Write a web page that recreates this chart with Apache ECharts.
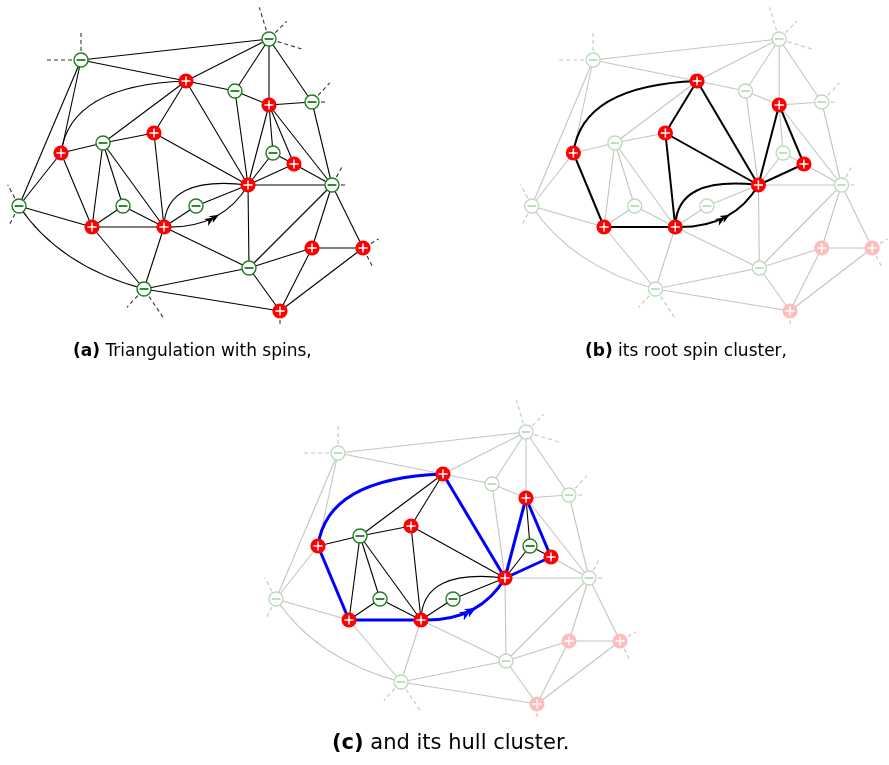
<!DOCTYPE html>
<html><head><meta charset="utf-8">
<script src="https://cdn.jsdelivr.net/npm/echarts@6/dist/echarts.min.js"></script>
<style>html,body{margin:0;padding:0;background:#fff}#c{width:889px;height:765px}</style>
</head><body><div id="c"></div>
<script>
// ---- data (node coordinates in panel units, spins, edges) ----
const nodeX = [81,186,269,235,269,312,61,103,154,273,294,19,123,92,164,196,248,332,312,363,249,144,280];
const nodeY = [60,81,39,91,105,102,153,143,133,153,164,206,206,227,227,206,185,185,248,248,268,289,311];
const nodeSpin = [-1,1,-1,-1,1,-1,1,-1,1,-1,1,-1,-1,1,1,-1,1,-1,1,1,-1,-1,1];
const edges = [[1,3],[1,2],[1,7],[1,12],[7,2,'A'],[2,3],[2,4],[2,8],[2,9],[2,17],[3,4],[3,5],[3,6],
  [4,5],[4,17],[5,6],[5,10],[5,11],[5,17],[5,18],[6,18],[7,8],[7,12],[7,14],[8,9],[8,13],[8,14],[8,15],
  [9,15],[9,17],[10,11],[10,17],[11,17],[11,18],[12,14],[12,22,'B'],[13,14],[13,15],[14,15],[14,22],
  [15,22],[15,16],[15,17,'C'],[15,17,'D'],[15,21],[16,17],[17,18],[17,21],[18,21],[18,19],[18,20],
  [19,20],[19,21],[19,23],[20,23],[21,22],[21,23],[22,23]];
const bendPerp = {A:-0.377, B:0.186, C:-0.49, D:0.295};
const bendAlong = {A:-0.211, B:-0.057, C:-0.243, D:0.043};
const stubs = [[1,180,36],[1,270,27],[3,253,33],[3,315,25],[3,17,34],[6,313,26],[6,0,15],[12,242,24],
  [12,117,22],[18,299,23],[18,0,15],[20,330,18],[20,63,23],[22,133,25],[22,56,36],[23,90,16]];
const arrowEdge = '15-17D';
const arrowT = 0.56;
const rootEdges = ['7-2A','7-14','14-15','2-9','9-15','9-17','2-17','15-17C','15-17D','5-17','5-11','11-17'];
const rootNodes = [2,7,9,14,15,17,5,11];
const hullEdges = ['7-2A','2-17','7-14','14-15','15-17D','5-17','5-11','11-17'];
const hullInnerEdges = ['2-8','2-9','7-8','8-9','8-13','8-14','8-15','9-15','9-17','13-14','13-15','15-16','16-17','15-17C','5-10','10-11','10-17'];
const hullNodes = [2,7,9,14,15,17,5,11,8,13,16,10];
const captions = [['(a)','Triangulation with spins,'],['(b)','its root spin cluster,'],['(c)','and its hull cluster.']];

// ---- styles ----
const RED='#ff0000', RED_F='#ffbcbc', GREEN='#1e7d1e', GREEN_F='#bcdcbc', GREY='#c4c4c4', BLUE='#0000ff';

function edgeKey(e){ return e[0]+'-'+e[1]+(e[2]||''); }

function ctrl(p1,p2,key){
  const mx=(p1[0]+p2[0])/2, my=(p1[1]+p2[1])/2, dx=p2[0]-p1[0], dy=p2[1]-p1[1];
  const c=bendPerp[key], s=bendAlong[key];
  return [mx + s*dx - c*dy, my + s*dy + c*dx];
}

function makeRender(mode){
  return function(params, api){
    const P = nodeX.map((x,i)=>api.coord([x,nodeY[i]]));
    const layers = [[],[],[],[],[]]; // grey, stubs, black, blue, nodes
    function edgeStyle(k){
      if(mode==='a') return {layer:2, stroke:'#000', w:1.1};
      if(mode==='b') return rootEdges.includes(k) ? {layer:2, stroke:'#000', w:2} : {layer:0, stroke:GREY, w:1.1};
      if(hullEdges.includes(k)) return {layer:3, stroke:BLUE, w:3};
      if(hullInnerEdges.includes(k)) return {layer:2, stroke:'#000', w:1.1};
      return {layer:0, stroke:GREY, w:1.1};
    }
    edges.forEach(e=>{
      const k=edgeKey(e), st=edgeStyle(k);
      const a=P[e[0]-1], b=P[e[1]-1];
      let el;
      if(e[2]){
        const cp=ctrl(a,b,e[2]);
        el={type:'bezierCurve', shape:{x1:a[0],y1:a[1],x2:b[0],y2:b[1],cpx1:cp[0],cpy1:cp[1]},
            style:{stroke:st.stroke, lineWidth:st.w, fill:'none'}};
        if(k===arrowEdge){
          const t=arrowT, u=1-t;
          const px=u*u*a[0]+2*t*u*cp[0]+t*t*b[0], py=u*u*a[1]+2*t*u*cp[1]+t*t*b[1];
          let tx=2*u*(cp[0]-a[0])+2*t*(b[0]-cp[0]), ty=2*u*(cp[1]-a[1])+2*t*(b[1]-cp[1]);
          const L=Math.hypot(tx,ty); tx/=L; ty/=L;
          const nx=-ty, ny=tx;
          const len = mode==='c'?11:9.5, hw = mode==='c'?4.8:4, gap = mode==='c'?6:5.5;
          [0,gap].forEach(off=>{
            const qx=px-tx*off, qy=py-ty*off;
            const bx=qx-tx*len, by=qy-ty*len;
            const mx=qx-tx*len*0.72, my=qy-ty*len*0.72;
            layers[st.layer===0?2:st.layer].push({type:'polygon', shape:{points:[[qx,qy],[bx+nx*hw,by+ny*hw],[mx,my],[bx-nx*hw,by-ny*hw]]},
              style:{fill:st.stroke}});
          });
        }
      } else {
        el={type:'line', shape:{x1:a[0],y1:a[1],x2:b[0],y2:b[1]}, style:{stroke:st.stroke, lineWidth:st.w}};
      }
      layers[st.layer].unshift(el);
    });
    stubs.forEach(s=>{
      const c=P[s[0]-1], ang=s[1]*Math.PI/180, r0=9, r1=s[2];
      layers[1].push({type:'line', shape:{x1:c[0]+Math.cos(ang)*r0, y1:c[1]+Math.sin(ang)*r0, x2:c[0]+Math.cos(ang)*r1, y2:c[1]+Math.sin(ang)*r1},
        style:{stroke: mode==='a'?'#333':GREY, lineWidth:1.1, lineDash:[4,3]}});
    });
    P.forEach((c,i)=>{
      const id=i+1, plus=nodeSpin[i]>0;
      let full = mode==='a' || (mode==='b' ? rootNodes.includes(id) : hullNodes.includes(id));
      if(plus){
        layers[4].push({type:'circle', shape:{cx:c[0],cy:c[1],r:7.6}, style:{fill: full?RED:RED_F}});
        layers[4].push({type:'line', shape:{x1:c[0]-4.6,y1:c[1],x2:c[0]+4.6,y2:c[1]}, style:{stroke:'#fff', lineWidth:1.5}});
        layers[4].push({type:'line', shape:{x1:c[0],y1:c[1]-4.6,x2:c[0],y2:c[1]+4.6}, style:{stroke:'#fff', lineWidth:1.5}});
      } else {
        const g = full?GREEN:GREEN_F;
        layers[4].push({type:'circle', shape:{cx:c[0],cy:c[1],r:7}, style:{fill:'#fff', stroke:g, lineWidth:1.4}});
        layers[4].push({type:'line', shape:{x1:c[0]-4.4,y1:c[1],x2:c[0]+4.4,y2:c[1]}, style:{stroke:g, lineWidth:1.8}});
      }
    });
    return {type:'group', children:[].concat(layers[0],layers[1],layers[2],layers[3],layers[4])};
  };
}

const panels = [{mode:'a', left:0, top:0},{mode:'b', left:513, top:0},{mode:'c', left:257, top:393}];
const FONT = 'DejaVu Sans';
const option = {
  backgroundColor:'#fff',
  animation:false,
  grid: panels.map(p=>({left:p.left, top:p.top, width:380, height:340})),
  xAxis: panels.map((p,i)=>({gridIndex:i, type:'value', min:0, max:380, show:false})),
  yAxis: panels.map((p,i)=>({gridIndex:i, type:'value', min:0, max:340, inverse:true, show:false})),
  title: [
    {left:73, top:343, fs:17},
    {left:585, top:343, fs:17},
    {left:332, top:733, fs:21}
  ].map((t,i)=>({left:t.left, top:t.top, padding:0,
     text:'{b|'+captions[i][0]+'} {n|'+captions[i][1]+'}',
     textStyle:{fontWeight:'normal', fontFamily:FONT, fontSize:t.fs,
       rich:{b:{fontWeight:'bold', fontSize:t.fs, fontFamily:FONT, color:'#000'},
             n:{fontWeight:'normal', fontSize:t.fs, fontFamily:FONT, color:'#000'}}}})),
  series: panels.map((p,i)=>({type:'custom', coordinateSystem:'cartesian2d', xAxisIndex:i, yAxisIndex:i,
     clip:false, silent:true, data:[[0,0]], renderItem: makeRender(p.mode)}))
};
echarts.init(document.getElementById('c')).setOption(option);
</script>
</body></html>
